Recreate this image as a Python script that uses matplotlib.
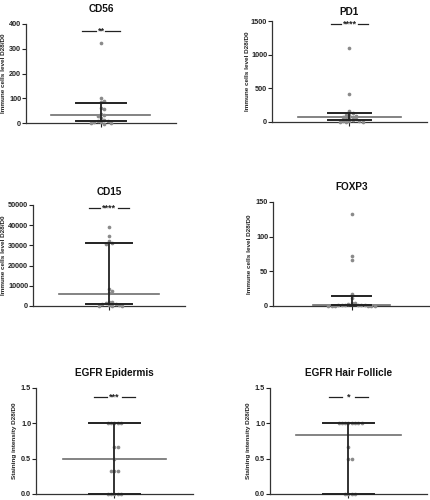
import matplotlib
matplotlib.use('Agg')
import matplotlib.pyplot as plt
import numpy as np

plt.rcParams['font.family'] = ['Liberation Sans', 'DejaVu Sans']
plt.rcParams['font.weight'] = 'bold'

# panel titles, y labels and values
titles = ['CD56', 'PD1', 'CD15', 'FOXP3', 'EGFR Epidermis', 'EGFR Hair Follicle']
ylabels = ['Immune cells level D28/D0'] * 4 + ['Staining intensity D28/D0'] * 2

cd56 = [325, 100, 90, 83, 60, 55, 38, 32, 28, 20, 12, 10, 8, 5, 3, 2, 0, -5]
pd1 = [1100, 410, 170, 130, 110, 100, 90, 80, 70, 60, 50, 40, 30, 20, 15, 10, 5, 2, 0]
cd15 = [39300, 34800, 32300, 31200, 30800, 8200, 7500, 6500, 2000, 1800, 1500,
        1200, 900, 600, 400, 200, 0, 0]
foxp3 = [133, 72, 67, 17, 12, 4, 4, 3, 2, 2, 1.5, 1, 1, 1, 0.5, 0.5, 0, 0, 0, 0]
egfr_epi = [1, 1, 1, 1, 1, 0.67, 0.67, 0.5, 0.33, 0.33, 0.33, 0, 0, 0, 0, 0]
egfr_hair = [1, 1, 1, 1, 1, 1, 1, 1, 0.67, 0.5, 0.5, 0, 0, 0, 0]
values = [cd56, pd1, cd15, foxp3, egfr_epi, egfr_hair]

# summary lines: upper whisker, lower whisker, mean
upper = [80, 130, 31000, 14, 1.0, 1.0]
lower = [10, 30, 1200, 1.5, 0.0, 0.0]
means = [33, 70, 6000, 2, 0.5, 0.83]

ymax = [400, 1500, 50000, 150, 1.5, 1.5]
ysteps = [100, 500, 10000, 50, 0.5, 0.5]
signif = ['**', '****', '****', '', '***', '*']
sig_y = [372, 1450, 48500, None, 1.37, 1.37]

# layout (pixels in a 431x500 picture)
W, H = 431, 500
boxes = [(26, 176, 24, 123), (272, 427, 21, 122), (33, 185, 205, 306),
         (273, 430, 202, 306), (36, 193, 388, 494), (270, 427, 388, 494)]
cap_w = [0.33, 0.28, 0.30, 0.25, 0.33, 0.33]
mean_w = [0.66, 0.66, 0.66, 0.49, 0.66, 0.67]
sig_out = [0.25, 0.245, 0.26, 0, 0.26, 0.25]
sig_in = [0.06, 0.11, 0.12, 0, 0.10, 0.08]
label_off = [20, 22, 27, 21, 19, 19]
title_off = [15, 9, 13, 15, 15, 15]


def swarm(vals, h_px, w_px, top, d=3.3):
    # simple beeswarm: spread points sideways so dots do not overlap
    order = np.argsort(vals)[::-1]
    placed = []
    xs = np.zeros(len(vals))
    for i in order:
        y = vals[i] / top * h_px
        k = 0
        while True:
            off = ((k + 1) // 2) * d * (1 if k % 2 else -1) if k else 0.0
            if all((off - px) ** 2 + (y - py) ** 2 >= (d * 0.95) ** 2 for px, py in placed):
                break
            k += 1
        placed.append((off, y))
        xs[i] = off / (w_px / 2)
    return xs


fig = plt.figure(figsize=(W / 100, H / 100), dpi=100)
for i in range(6):
    l, r, t, b = boxes[i]
    ax = fig.add_axes([l / W, 1 - b / H, (r - l) / W, (b - t) / H])
    w_px, h_px = r - l, b - t
    ax.set_xlim(-1, 1)
    ax.set_ylim(0, ymax[i])

    v = np.array(values[i], dtype=float)
    xs = swarm(v, h_px, w_px, ymax[i])
    ax.scatter(xs, v, s=7, color='#8a8a8a', linewidths=0, zorder=3, clip_on=False)

    ax.plot([-mean_w[i], mean_w[i]], [means[i]] * 2, color='#6e6e6e', lw=1.2, zorder=2)
    ax.plot([0, 0], [lower[i], upper[i]], color='#222222', lw=1.3, zorder=4)
    for yv in (upper[i], lower[i]):
        ax.plot([-cap_w[i], cap_w[i]], [yv, yv], color='#222222', lw=1.4, zorder=4,
                clip_on=False)

    if signif[i]:
        ax.plot([-sig_out[i], -sig_in[i]], [sig_y[i]] * 2, color='#222222', lw=0.9)
        ax.plot([sig_in[i], sig_out[i]], [sig_y[i]] * 2, color='#222222', lw=0.9)
        ax.text(0, sig_y[i], signif[i], ha='center', va='center', fontsize=6.5,
                fontweight='bold', color='#222222')

    ticks = np.arange(0, ymax[i] + ysteps[i] / 2, ysteps[i])
    ax.set_yticks(ticks)
    if ymax[i] < 10:
        ax.set_yticklabels(['%.1f' % t_ for t_ in ticks])
    else:
        ax.set_yticklabels(['%d' % t_ for t_ in ticks])
    ax.set_xticks([0])
    ax.set_xticklabels([''])
    ax.tick_params(axis='both', length=3, width=0.8, pad=0.5, labelsize=5.2,
                   colors='#222222')
    for lab in ax.get_yticklabels():
        lab.set_fontweight('bold')
    for side in ('top', 'right'):
        ax.spines[side].set_visible(False)
    for side in ('left', 'bottom'):
        ax.spines[side].set_linewidth(0.9)
        ax.spines[side].set_color('#333333')

    ax.set_ylabel(ylabels[i], fontsize=4.6, fontweight='bold', color='#222222')
    ax.yaxis.set_label_coords(-label_off[i] / w_px, 0.5)
    ax.text(0.5, 1 + title_off[i] / h_px, titles[i], transform=ax.transAxes,
            ha='center', va='center', fontsize=7.2, fontweight='bold', color='#111111')

fig.savefig('out.png', dpi=100)
